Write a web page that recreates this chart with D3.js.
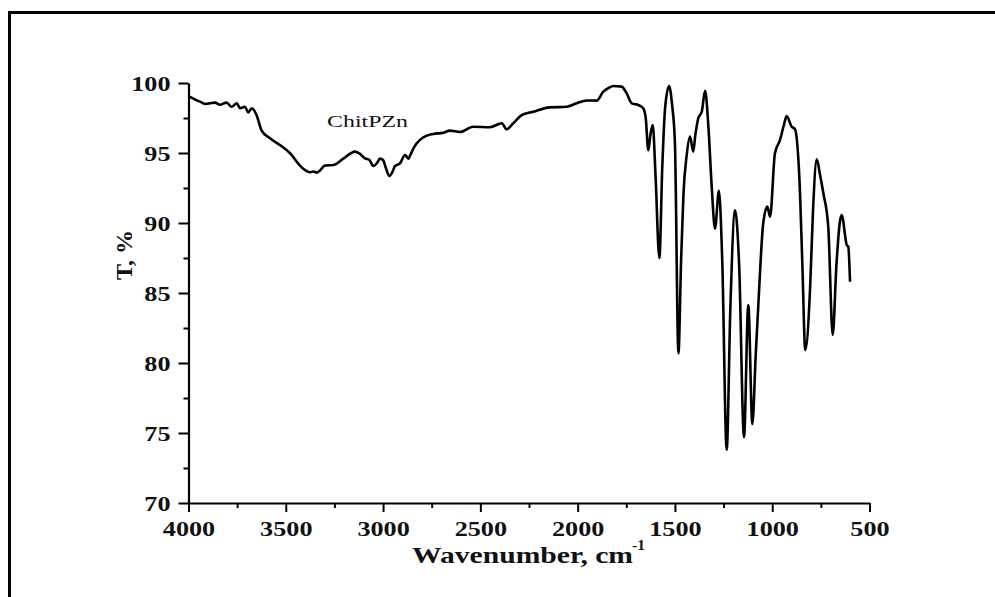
<!DOCTYPE html>
<html><head><meta charset="utf-8">
<script src="https://cdn.jsdelivr.net/npm/d3@7"></script>
<style>body{margin:0;background:#fff}svg{display:block}</style>
</head><body>
<svg id="chart" width="995" height="597"></svg>
<script>
const wavenumber = [4000,3970,3941,3910,3889,3864,3838,3804,3778,3752,3735,3710,3693,3675,3650,3624,3581,3530,3478,3427,3392,3376,3359,3340,3324,3300,3256,3204,3144,3120,3093,3070,3050,3030,3016,3000,2985,2968,2950,2939,2913,2887,2870,2862,2845,2827,2793,2742,2690,2656,2605,2536,2450,2390,2365,2331,2288,2228,2142,2056,2005,1953,1902,1868,1840,1817,1774,1748,1722,1688,1663,1650,1637,1625,1614,1600,1580,1565,1550,1530,1515,1500,1482,1468,1456,1440,1422,1406,1395,1380,1362,1345,1328,1311,1294,1274,1257,1234,1215,1191,1170,1145,1123,1102,1085,1071,1046,1025,1011,986,960,940,926,900,883,857,845,830,805,790,771,755,737,712,689,670,651,643,617,609,600];
const transmittance = [99.07,98.85,98.67,98.5,98.55,98.6,98.45,98.6,98.3,98.55,98.2,98.3,97.9,98.2,97.7,96.6,96.05,95.57,94.98,94.1,93.7,93.62,93.68,93.6,93.75,94.1,94.14,94.6,95.1,94.95,94.62,94.5,94.07,94.3,94.6,94.5,93.9,93.36,93.7,94.07,94.26,94.86,94.6,94.8,95.3,95.7,96.12,96.36,96.45,96.6,96.5,96.88,96.84,97.12,96.7,97.12,97.7,97.95,98.26,98.3,98.55,98.75,98.74,99.38,99.65,99.79,99.74,99.26,98.55,98.43,98.19,97.5,95.2,96.4,97.0,93.5,87.5,94.0,98.3,99.79,98.5,95.7,80.7,87.5,92.1,94.8,96.17,95.1,96.3,97.48,97.95,99.45,96.88,92.6,89.6,92.3,87.4,73.8,84.0,90.9,87.0,74.7,84.14,75.64,80.5,84.26,90.0,91.17,90.45,94.98,95.93,97.0,97.64,96.88,96.7,92.1,87.0,80.93,85.45,91.0,94.55,93.5,92.12,89.74,82.0,87.0,90.2,90.57,88.43,88.3,85.8];
const xTicks = [4000,3500,3000,2500,2000,1500,1000,500];
const yTicks = [70,75,80,85,90,95,100];
const xMinor = [3750,3250,2750,2250,1750,1250,750];
const yMinor = [72.5,77.5,82.5,87.5,92.5,97.5];
const sampleName = "ChitPZn";
const xTitle = "Wavenumber, cm";
const xTitleSup = "-1";
const yTitle = "T, %";

const svg = d3.select("#chart");
const serif = "'Liberation Serif','Times New Roman',serif";

// outer frame (partially cropped)
svg.append("line").attr("x1",8).attr("x2",995).attr("y1",12.5).attr("y2",12.5).attr("stroke","#000").attr("stroke-width",3);
svg.append("line").attr("x1",9.5).attr("x2",9.5).attr("y1",11).attr("y2",597).attr("stroke","#000").attr("stroke-width",3);

const x = d3.scaleLinear().domain([4000,500]).range([188.5,869.5]);
const y = d3.scaleLinear().domain([70,100]).range([503,83]);

// minor ticks
const gxm = svg.append("g").attr("transform","translate(0,503)")
  .call(d3.axisBottom(x).tickValues(xMinor).tickSize(5).tickFormat(""));
const gym = svg.append("g").attr("transform","translate(188.5,0)")
  .call(d3.axisLeft(y).tickValues(yMinor).tickSize(5).tickFormat(""));
[gxm,gym].forEach(g=>{g.select(".domain").remove();g.selectAll("line").attr("stroke","#000").attr("stroke-width",2);});

const gx = svg.append("g").attr("transform","translate(0,503)")
  .call(d3.axisBottom(x).tickValues(xTicks).tickSize(9).tickSizeOuter(0).tickPadding(8).tickFormat(d3.format("d")));
const gy = svg.append("g").attr("transform","translate(188.5,0)")
  .call(d3.axisLeft(y).tickValues(yTicks).tickSize(10).tickSizeOuter(0).tickPadding(8).tickFormat(d3.format("d")));
[gx,gy].forEach(g=>{
  g.attr("font-family",serif).attr("font-size",22).attr("font-weight","bold");
  g.select(".domain").attr("stroke","#000").attr("stroke-width",2.2);
  g.selectAll(".tick line").attr("stroke","#000").attr("stroke-width",2);
  g.selectAll(".tick text").attr("fill","#111")
    .attr("textLength",function(){return this.textContent.length*13.1;})
    .attr("lengthAdjust","spacingAndGlyphs");
});

// spectrum
const line = d3.line().x((d,i)=>x(wavenumber[i])).y(d=>y(d)).curve(d3.curveMonotoneX);
svg.append("path").datum(transmittance).attr("d",line)
  .attr("fill","none").attr("stroke","#000").attr("stroke-width",2.6).attr("stroke-linejoin","round");

// labels
svg.append("text").attr("x",327).attr("y",127).attr("font-family",serif).attr("font-size",17)
  .attr("textLength",81).attr("lengthAdjust","spacingAndGlyphs").attr("fill","#111").text(sampleName);

svg.append("text").attr("x",412).attr("y",563).attr("font-family",serif).attr("font-size",24).attr("font-weight","bold")
  .attr("textLength",221).attr("lengthAdjust","spacingAndGlyphs").attr("fill","#111").text(xTitle);
svg.append("text").attr("x",632).attr("y",550).attr("font-family",serif).attr("font-size",15).attr("font-weight","bold")
  .attr("textLength",13).attr("lengthAdjust","spacingAndGlyphs").attr("fill","#111").text(xTitleSup);

svg.append("text").attr("transform","translate(132,255) rotate(-90)").attr("text-anchor","middle")
  .attr("font-family",serif).attr("font-size",24).attr("font-weight","bold").attr("fill","#111").text(yTitle);
</script>
</body></html>
